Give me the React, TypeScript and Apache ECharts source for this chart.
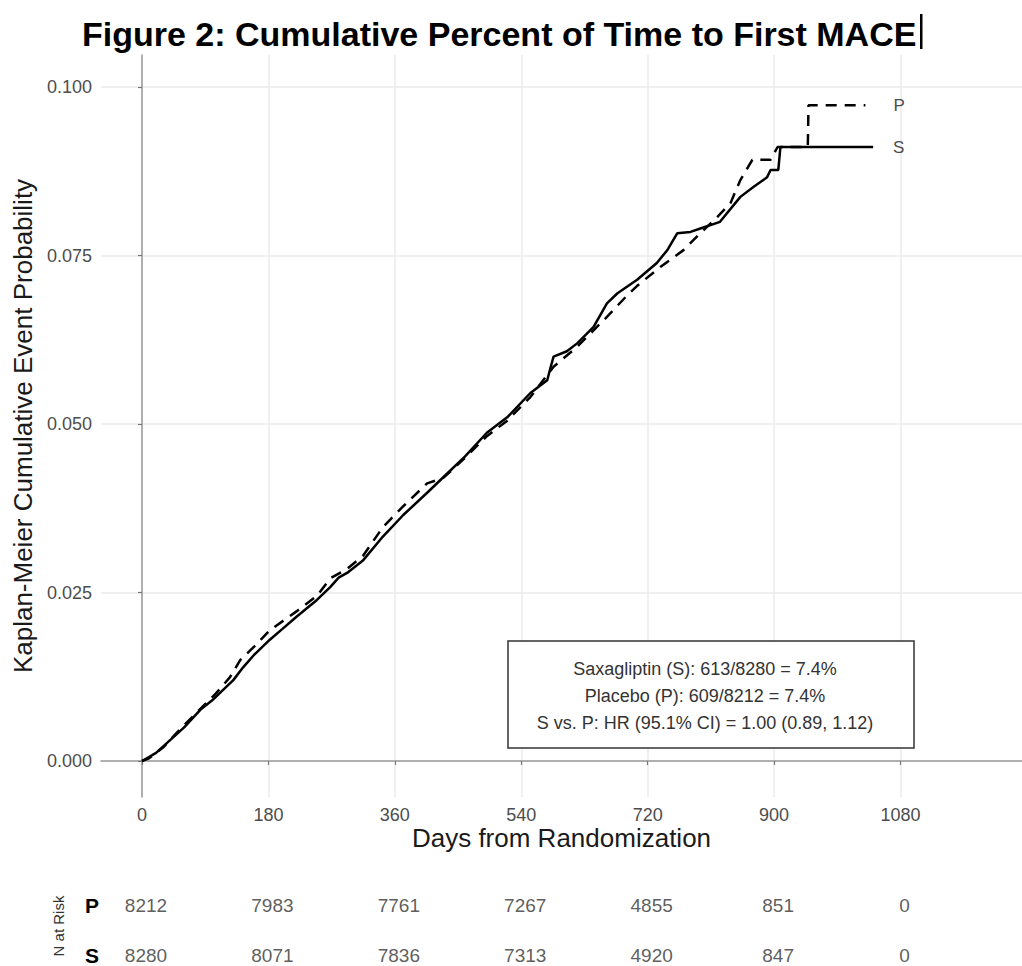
import React, { useEffect, useRef } from "react";
import * as echarts from "echarts";

// ---- Data ----
const dayTicks = [0, 180, 360, 540, 720, 900, 1080];
const probTicks = [0, 0.025, 0.05, 0.075, 0.1];

// Saxagliptin (S), solid line
const saxaDays = [0, 5, 20, 40, 60, 83, 100, 111, 130, 144, 160, 182, 200, 220, 249, 268, 280, 292, 315, 343, 372, 406, 429, 460, 491, 520, 553, 577, 582, 586, 605, 620, 643, 662, 677, 705, 733, 748, 762, 781, 795, 823, 852, 871, 890, 895, 906, 909, 1041];
const saxaProb = [0, 0.0003, 0.0012, 0.0031, 0.005, 0.0076, 0.009, 0.0101, 0.012, 0.0139, 0.0158, 0.018, 0.0196, 0.0214, 0.0239, 0.0258, 0.0272, 0.0279, 0.0298, 0.0333, 0.0365, 0.0398, 0.0421, 0.0452, 0.0487, 0.051, 0.0546, 0.0565, 0.0585, 0.06, 0.0608, 0.062, 0.0644, 0.0679, 0.0694, 0.0714, 0.0739, 0.0758, 0.0783, 0.0785, 0.079, 0.08, 0.0837, 0.0852, 0.0866, 0.0877, 0.0877, 0.0911, 0.0911];

// Placebo (P), dashed line
const placeboDays = [0, 10, 30, 55, 80, 105, 125, 140, 160, 182, 220, 249, 268, 292, 315, 343, 372, 406, 429, 460, 491, 520, 553, 586, 620, 662, 690, 705, 738, 771, 790, 819, 838, 852, 869, 895, 905, 948, 949, 1030];
const placeboProb = [0, 0.0004, 0.002, 0.0048, 0.0074, 0.01, 0.0124, 0.015, 0.017, 0.0194, 0.0222, 0.0245, 0.0271, 0.0285, 0.0305, 0.0347, 0.0378, 0.0412, 0.042, 0.045, 0.0482, 0.0505, 0.054, 0.0585, 0.0615, 0.0659, 0.069, 0.0705, 0.0733, 0.0758, 0.0778, 0.0807, 0.0828, 0.0862, 0.0892, 0.0892, 0.0911, 0.0911, 0.0973, 0.0973];

// Numbers at risk (row 1 = P, row 0 = S)
const riskDays = [0, 180, 360, 540, 720, 900, 1080];
const riskPlacebo = [8212, 7983, 7761, 7267, 4855, 851, 0];
const riskSaxa = [8280, 8071, 7836, 7313, 4920, 847, 0];
const riskRows = ["S", "P"];

const statLines = [
  "Saxagliptin (S): 613/8280 = 7.4%",
  "Placebo (P): 609/8212 = 7.4%",
  "S vs. P: HR (95.1% CI) = 1.00 (0.89, 1.12)",
];

const titleText = "Figure 2: Cumulative Percent of Time to First MACE";
const xName = "Days from Randomization";
const yName = "Kaplan-Meier Cumulative Event Probability";

const FONT = "'Liberation Sans', Arial, Helvetica, sans-serif";
const X_MIN = -58.4;
const X_MAX = 1253;
const Y_MIN = -0.00534;
const Y_MAX = 0.10475;

export default function App() {
  const ref = useRef<HTMLDivElement>(null);

  useEffect(() => {
    if (!ref.current) return;
    const chart = echarts.init(ref.current, undefined, { renderer: "svg" });

    const sData = saxaDays.map((d, i) => [d, saxaProb[i]]);
    const pData = placeboDays.map((d, i) => [d, placeboProb[i]]);
    const riskP = riskDays.map((d, i) => [d, 1, riskPlacebo[i]]);
    const riskS = riskDays.map((d, i) => [d, 0, riskSaxa[i]]);

    const axisLineStyle = { color: "#9a9a9a", width: 1.5 };
    const gridLineStyle = { color: "#ebebeb", width: 1.5 };

    const riskLabel = {
      show: true,
      position: "inside",
      offset: [4, 0],
      formatter: (p: any) => String(p.value[2]),
      color: "#333",
      fontSize: 19,
      fontFamily: FONT,
    };

    const option: any = {
      animation: false,
      backgroundColor: "#ffffff",
      textStyle: { fontFamily: FONT },
      title: {
        text: titleText,
        left: 77,
        top: 12,
        textStyle: { fontFamily: FONT, fontSize: 34, fontWeight: "bold", color: "#000" },
      },
      grid: [
        { left: 101, right: 0, top: 55, bottom: 169 },
        { left: 101, right: 0, top: 870, bottom: 0 },
      ],
      xAxis: [
        {
          type: "value",
          gridIndex: 0,
          min: X_MIN,
          max: X_MAX,
          axisLine: { show: true, lineStyle: axisLineStyle },
          axisTick: { show: true, customValues: dayTicks, length: 4, lineStyle: { color: "#777", width: 1.2 } },
          axisLabel: {
            customValues: dayTicks,
            color: "#4d4d4d",
            fontSize: 18,
            margin: 9,
            fontFamily: FONT,
            formatter: (v: number) => String(v),
          },
          splitLine: { show: true, lineStyle: gridLineStyle },
          name: xName,
          nameLocation: "middle",
          nameGap: 28,
          nameMoveOverlap: false,
          nameTextStyle: { fontSize: 26, color: "#1a1a1a", fontFamily: FONT },
        },
        {
          type: "value",
          gridIndex: 1,
          min: X_MIN,
          max: X_MAX,
          show: false,
        },
      ],
      yAxis: [
        {
          type: "value",
          gridIndex: 0,
          min: Y_MIN,
          max: Y_MAX,
          axisLine: { show: true, lineStyle: axisLineStyle },
          axisTick: { show: true, customValues: probTicks, length: 4, lineStyle: { color: "#777", width: 1.2 } },
          axisLabel: {
            customValues: probTicks,
            color: "#4d4d4d",
            fontSize: 18,
            margin: 9,
            fontFamily: FONT,
            formatter: (v: number) => v.toFixed(3),
          },
          splitLine: { show: true, lineStyle: gridLineStyle },
          name: yName,
          nameLocation: "middle",
          nameGap: 55,
          nameTextStyle: { fontSize: 26, color: "#1a1a1a", fontFamily: FONT },
        },
        {
          type: "value",
          gridIndex: 1,
          min: -0.22,
          max: 1.7,
          axisLine: { show: false },
          axisTick: { show: false },
          splitLine: { show: false },
          axisLabel: {
            customValues: [0, 1],
            formatter: (v: number) => riskRows[Math.round(v)] ?? "",
            fontSize: 21,
            fontWeight: "bold",
            color: "#000",
            margin: 2,
            fontFamily: FONT,
          },
        },
      ],
      series: [
        {
          name: "S",
          type: "line",
          xAxisIndex: 0,
          yAxisIndex: 0,
          data: sData,
          showSymbol: false,
          silent: true,
          lineStyle: { color: "#000", width: 2.5, type: "solid" },
          endLabel: { show: true, formatter: "S", distance: 20, color: "#4d4d4d", fontSize: 17, fontFamily: FONT },
          z: 3,
        },
        {
          name: "P",
          type: "line",
          xAxisIndex: 0,
          yAxisIndex: 0,
          data: pData,
          showSymbol: false,
          silent: true,
          lineStyle: { color: "#000", width: 2.5, type: [11, 8] },
          endLabel: { show: true, formatter: "P", distance: 28, color: "#4d4d4d", fontSize: 17, fontFamily: FONT },
          z: 3,
        },
        {
          type: "scatter",
          xAxisIndex: 1,
          yAxisIndex: 1,
          data: riskP,
          symbolSize: 1,
          itemStyle: { color: "rgba(0,0,0,0)" },
          silent: true,
          label: riskLabel,
        },
        {
          type: "scatter",
          xAxisIndex: 1,
          yAxisIndex: 1,
          data: riskS,
          symbolSize: 1,
          itemStyle: { color: "rgba(0,0,0,0)" },
          silent: true,
          label: riskLabel,
        },
      ],
      graphic: [
        {
          type: "rect",
          shape: { x: 920, y: 14, width: 2.5, height: 35 },
          style: { fill: "#000" },
          z: 100,
        },
        {
          type: "rect",
          shape: { x: 508, y: 641, width: 406, height: 107 },
          style: { fill: "#fff", stroke: "#333", lineWidth: 1.5 },
          z: 100,
        },
        ...statLines.map((t, i) => ({
          type: "text",
          x: 705,
          y: 669 + i * 27,
          z: 101,
          style: {
            text: t,
            fill: "#333",
            fontSize: 18,
            fontFamily: FONT,
            align: "center",
            verticalAlign: "middle",
          },
        })),
        {
          type: "text",
          x: 58,
          y: 926,
          rotation: Math.PI / 2,
          z: 101,
          style: {
            text: "N at Risk",
            fill: "#333",
            fontSize: 15,
            fontFamily: FONT,
            align: "center",
            verticalAlign: "middle",
          },
        },
      ],
    };

    chart.setOption(option);
    return () => chart.dispose();
  }, []);

  return (
    <div
      ref={ref}
      style={{ position: "absolute", left: 0, top: 0, width: 1022, height: 966, background: "#fff" }}
    />
  );
}
